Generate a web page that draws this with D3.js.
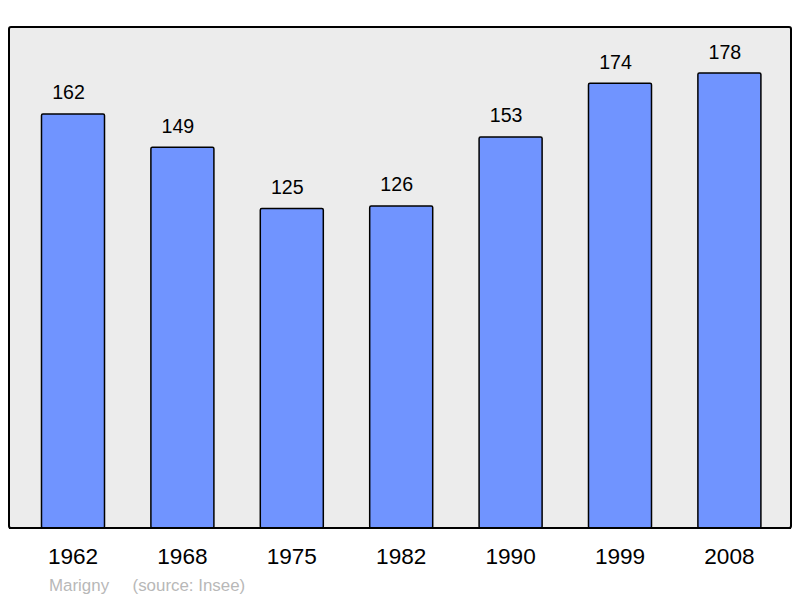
<!DOCTYPE html>
<html>
<head>
<meta charset="utf-8">
<script src="https://cdn.jsdelivr.net/npm/d3@7"></script>
<style>
    body { margin: 0; background: #fff; }
    text { font-family: "Liberation Sans", Arial, sans-serif; }
</style>
</head>
<body>
<script>
const years = ["1962", "1968", "1975", "1982", "1990", "1999", "2008"];
const population = [162, 149, 125, 126, 153, 174, 178];
const commune = "Marigny";
const source = "(source: Insee)";

const width = 800, height = 598;
const frame = { left: 9, top: 27, right: 791, bottom: 528 };

const svg = d3.select("body").append("svg")
    .attr("width", width)
    .attr("height", height);

svg.append("rect")
    .attr("x", frame.left)
    .attr("y", frame.top)
    .attr("width", frame.right - frame.left)
    .attr("height", frame.bottom - frame.top)
    .attr("rx", 2)
    .attr("fill", "#ececec")
    .attr("stroke", "#000")
    .attr("stroke-width", 2);

const x = d3.scaleBand()
    .domain(years)
    .range([18.3, 784.1])
    .paddingInner(0.424)
    .paddingOuter(0.212);

const y = d3.scaleLinear()
    .domain([0, 196])
    .range([frame.bottom, frame.top]);

const data = years.map((yr, i) => ({ year: yr, value: population[i] }));

svg.append("g").selectAll("rect")
    .data(data)
    .enter()
    .append("rect")
    .attr("x", d => x(d.year))
    .attr("y", d => y(d.value))
    .attr("width", x.bandwidth())
    .attr("height", d => y(0) - y(d.value))
    .attr("rx", 1.5)
    .attr("fill", "#7094ff")
    .attr("stroke", "#000")
    .attr("stroke-width", 1.5);

// redraw bottom edge of frame over the bars
svg.append("line")
    .attr("x1", frame.left)
    .attr("x2", frame.right)
    .attr("y1", frame.bottom)
    .attr("y2", frame.bottom)
    .attr("stroke", "#000")
    .attr("stroke-width", 2);

// value labels sit a little left of the bar centre in the original
svg.append("g").selectAll("text")
    .data(data)
    .enter()
    .append("text")
    .attr("x", d => x(d.year) + x.bandwidth() / 2 - 4.5)
    .attr("y", d => y(d.value) - 14.5)
    .attr("text-anchor", "middle")
    .attr("font-size", 19.6)
    .attr("fill", "#000")
    .text(d => d.value);

const xAxis = d3.axisBottom(x).tickSize(0).tickPadding(0);
const axisGroup = svg.append("g")
    .attr("transform", `translate(0, ${frame.bottom})`)
    .call(xAxis);
axisGroup.select(".domain").remove();
axisGroup.selectAll("text")
    .attr("dy", null)
    .attr("y", 36)
    .attr("font-size", 22.6)
    .attr("font-family", "Liberation Sans, Arial, sans-serif")
    .attr("fill", "#000");

svg.append("text")
    .attr("x", 49)
    .attr("y", 590.5)
    .attr("font-size", 16.9)
    .attr("fill", "#b8b8b8")
    .attr("xml:space", "preserve")
    .text(`${commune}     ${source}`);
</script>
</body>
</html>
